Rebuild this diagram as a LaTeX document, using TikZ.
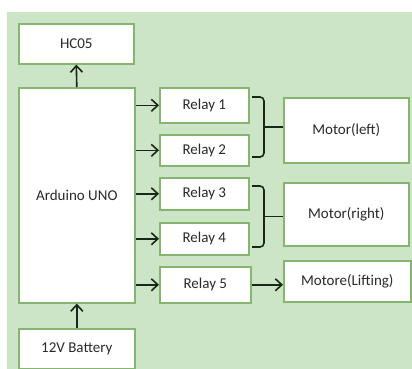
\documentclass[tikz,border=0pt]{standalone}
\usepackage{fontspec}
\setmainfont{Carlito}
\usetikzlibrary{arrows.meta,positioning}
\definecolor{bg}{HTML}{CBE5C6}
\definecolor{edge}{HTML}{86B572}
\definecolor{ink}{HTML}{1A261A}
\definecolor{txt}{HTML}{2A2A2A}

\begin{document}
\begin{tikzpicture}[x=1pt,y=-1pt,font=\fontsize{15}{18}\selectfont,
  blk/.style={draw=edge,fill=white,line width=1.6pt,inner sep=0pt,anchor=north west,text=txt},
  link/.style={ink,line width=1.6pt,-{Straight Barb[length=6.5pt,width=12pt]}},
  brc/.style={ink,line width=1.6pt,rounded corners=4pt}]
\useasboundingbox (0,0) rectangle (412,369);
% green panel
\fill[bg] (7,12) rectangle (412,369);
% controller, bluetooth and supply
\node[blk,minimum width=115pt,minimum height=40pt] (hc) at (18,23) {HC05};
\node[blk,minimum width=116pt,minimum height=215pt] (ard) at (18,87) {Arduino UNO};
\node[blk,minimum width=116pt,minimum height=40pt] (bat) at (18,328) {12V Battery};
% relays
\node[blk,minimum width=89pt,minimum height=35pt] (r1) at (159,87) {Relay 1};
\node[blk,minimum width=89pt,minimum height=31pt] (r2) at (159,134) {Relay 2};
\node[blk,minimum width=89pt,minimum height=32pt] (r3) at (159,177) {Relay 3};
\node[blk,minimum width=89pt,minimum height=32pt] (r4) at (159,222) {Relay 4};
\node[blk,minimum width=91pt,minimum height=36pt] (r5) at (159,266) {Relay 5};
% motors
\node[blk,minimum width=125pt,minimum height=65pt] (ml) at (283,97) {Motor(left)};
\node[blk,minimum width=125pt,minimum height=63pt] (mr) at (283,182) {Motor(right)};
\node[blk,minimum width=127pt,minimum height=41pt] (mlift) at (283,260) {Motore(Lifting)};
% arrows
\draw[link] (ard.north) -- (hc.south);
\draw[link] (bat.north) -- (ard.south);
\foreach \r in {r1,r2,r3,r4,r5}{\draw[link] (ard.east |- \r.west) -- (\r.west);}
\draw[link] (r5.east) -- (r5.east -| mlift.west);
% brackets to the motors
\coordinate (b1a) at (252,97);
\coordinate (t1) at (264,127);
\coordinate (b1b) at (252,157);
\coordinate (b2a) at (252,186);
\coordinate (t2) at (264,216.5);
\coordinate (b2b) at (252,247);
\draw[brc] (b1a) -| (t1) |- (b1b);
\draw[brc] (b2a) -| (t2) |- (b2b);
\draw[ink,line width=1.6pt] (t1) -- (t1 -| ml.west);
\draw[ink,line width=1.6pt] (t2) -- (t2 -| mr.west);
\end{tikzpicture}
\end{document}
